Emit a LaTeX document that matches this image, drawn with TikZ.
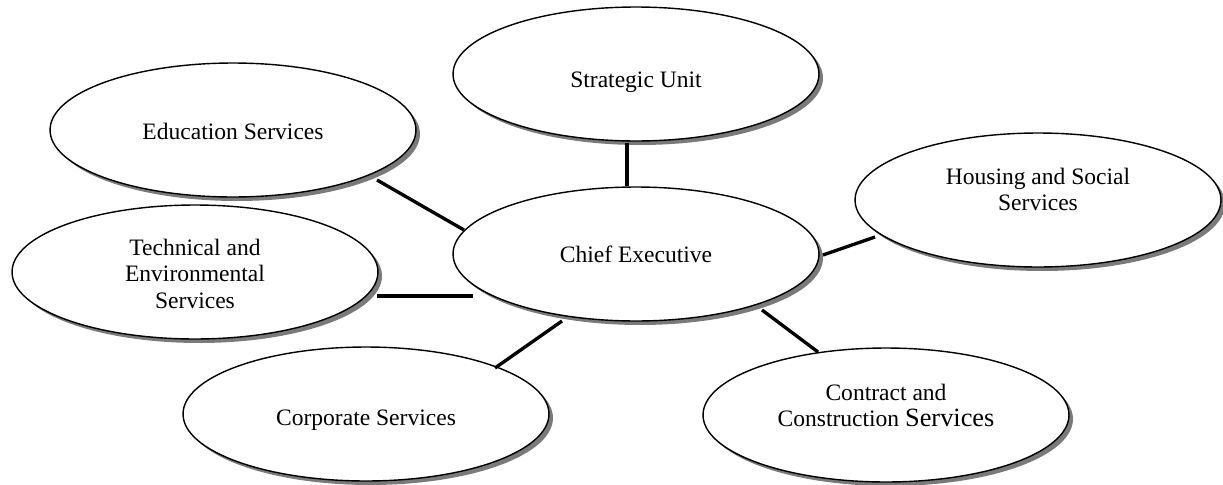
\documentclass[tikz,border=0pt]{standalone}
\usepackage{fontspec}
\setmainfont{Liberation Serif}
\usetikzlibrary{shapes.geometric,shadows,calc}
\newcommand\elltext[2]{\raisebox{#1}[0pt][0pt]{\begin{tabular}{@{}c@{}}#2\end{tabular}}}
\begin{document}
\begin{tikzpicture}[x=0.02cm,y=-0.02cm,
  unit/.style={ellipse, draw, line width=0.8pt, fill=white,
    minimum width=7.32cm, minimum height=2.68cm, inner sep=0pt,
    drop shadow={shadow xshift=0.08cm, shadow yshift=-0.08cm, fill=black!52, opacity=1},
    font=\fontsize{13.4}{15.1}\selectfont},
  conn/.style={line width=1.9pt}]
\useasboundingbox (0,0) rectangle (1223,484);
\node[unit] (strat) at (636,74) {\elltext{-8.2pt}{Strategic Unit}};
\node[unit] (edu) at (233,130) {\elltext{-5.9pt}{Education Services}};
\node[unit] (chief) at (636,254) {\elltext{-5.4pt}{Chief Executive}};
\node[unit] (house) at (1038,200) {\elltext{0.9pt}{Housing and Social\\Services}};
\node[unit] (tech) at (195,272) {\elltext{-6.2pt}{Technical and\\Environmental\\Services}};
\node[unit] (corp) at (366,414) {\elltext{-7.1pt}{Corporate Services}};
\node[unit] (contract) at (886,415) {\elltext{0.3pt}{Contract and\\Construction {\fontsize{15}{15}\selectfont Services}}};
\draw[conn] ($(strat.center)+(-9,69)$) -- ($(chief.center)+(-9,-68)$);
\draw[conn] ($(edu.center)+(144,50)$) -- ($(chief.center)+(-172,-24)$);
\draw[conn] ($(tech.center)+(182,24)$) -- ($(chief.center)+(-163,42)$);
\draw[conn] ($(corp.center)+(129,-46)$) -- ($(chief.center)+(-74,67)$);
\draw[conn] ($(chief.center)+(126,56)$) -- ($(contract.center)+(-68,-63)$);
\draw[conn] ($(chief.center)+(187,1)$) -- ($(house.center)+(-163,37)$);
\end{tikzpicture}
\end{document}
